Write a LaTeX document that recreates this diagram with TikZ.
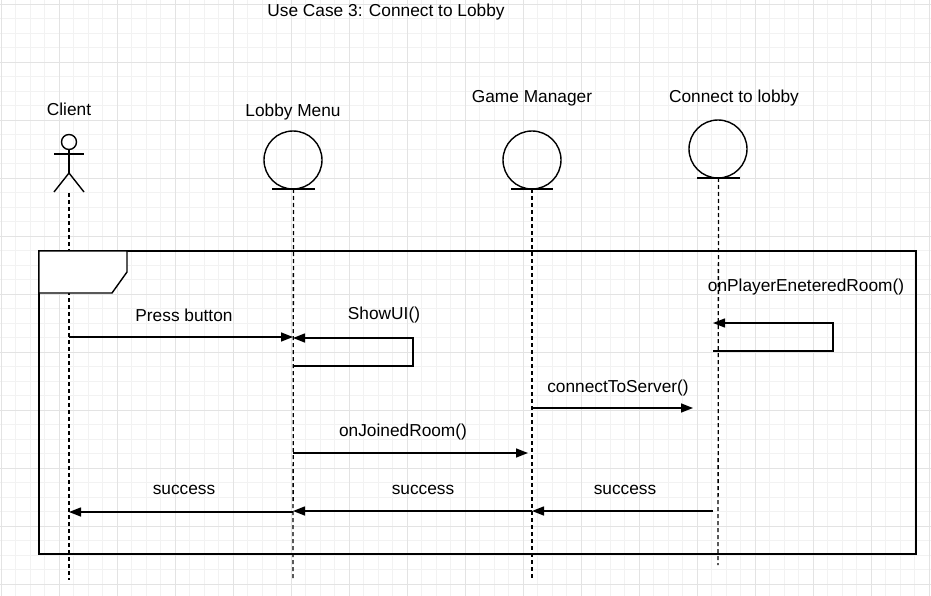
\documentclass[tikz,border=0pt]{standalone}
\usepackage{fontspec}
\setmainfont{Liberation Sans}
\usetikzlibrary{arrows.meta}
\tikzstyle{entity} = [draw, circle, line width=1.4pt, minimum size=58pt, inner sep=0pt]
\tikzstyle{lbl} = [font=\fontsize{17.3}{20}\selectfont, inner sep=0pt]
\tikzstyle{lifeline} = [line width=1.3pt, dash pattern=on 4pt off 3pt]
\tikzstyle{msg} = [line width=1.4pt, -{Triangle[length=12pt,width=9pt]}]
\tikzstyle{minorgrid} = [line width=0.8pt, black!5]
\tikzstyle{majorgrid} = [line width=0.8pt, black!11]

\begin{document}
\begin{tikzpicture}[x=1pt, y=-1pt]
\useasboundingbox (0,0) rectangle (931,596);

% background grid
\foreach \i in {0,...,64} \draw[minorgrid] ({1+14.5*\i},0) -- ({1+14.5*\i},596);
\foreach \j in {-1,...,41} \draw[minorgrid] (0,{4+14.5*\j}) -- (931,{4+14.5*\j});
\foreach \i in {0,...,16} \draw[majorgrid] ({1+58*\i},0) -- ({1+58*\i},596);
\foreach \j in {0,...,10} \draw[majorgrid] (0,{4+58*\j}) -- (931,{4+58*\j});

\node [lbl] (title) at (386,12) {Use Case 3: Connect to Lobby};

% participants
\node [lbl] (client) at (69,109) {Client};
\node [draw, circle, line width=1.4pt, minimum size=15pt, inner sep=0pt] (head) at (69,142) {};
\draw [line width=1.4pt] (54,154) -- (84,154);
\draw [line width=1.4pt] (head.south) -- (69,173) coordinate (hip);
\draw [line width=1.4pt] (54,192) -- (hip) -- (84,192);
\coordinate (clientbar) at (69,193);

\node [lbl] (lobbymenu) at (293,112) {Lobby Menu};
\node [entity] (menu) at (293,160) {};
\draw [line width=1.4pt] (272,189) -- (315,189) coordinate[pos=0.5] (menubar);

\node [lbl] (gamemanager) at (532,98) {Game Manager};
\node [entity] (manager) at (532,160) {};
\draw [line width=1.4pt] (511,189) -- (553,189) coordinate[pos=0.5] (managerbar);

\node [lbl] (connectlobby) at (734,98) {Connect to lobby};
\node [entity] (connect) at (718,149) {};
\draw [line width=1.4pt] (697,178) -- (740,178) coordinate[pos=0.5] (connectbar);

% lifelines
\draw [lifeline] (clientbar) -- (69,580) coordinate (clientend);
\draw [lifeline] (menubar) -- (293,578) coordinate (menuend);
\draw [lifeline] (managerbar) -- (532,578) coordinate (managerend);
\draw [lifeline] (connectbar) -- (718,565) coordinate (connectend);

% frame
\draw [line width=1.4pt] (39,251) rectangle (916,554);
\draw [line width=1.4pt, fill=white] (39,251) -- (127,251) -- (127,272) -- (112,293) -- (39,293) -- cycle;

% messages
\draw [msg] (clientend |- 0,337) -- (menuend |- 0,337);
\node [lbl] at (184,315) {Press button};
\draw [msg] (menuend |- 0,366) -- (413,366) -- (413,338) -- (menuend |- 0,338);
\node [lbl] at (384,315) {ShowUI()};
\draw [msg] ([xshift=-5pt]connectend |- 0,351) -- (833,351) -- (833,323) -- ([xshift=-5pt]connectend |- 0,323);
\node [lbl] at (806,287) {onPlayerEneteredRoom()};
\draw [msg] (managerend |- 0,408) -- ([xshift=-25pt]connectend |- 0,408);
\node [lbl] at (618,388) {connectToServer()};
\draw [msg] (menuend |- 0,453) -- ([xshift=-4pt]managerend |- 0,453);
\node [lbl] at (403,432) {onJoinedRoom()};
\draw [msg] ([xshift=-5pt]connectend |- 0,511) -- (managerend |- 0,511);
\node [lbl] at (625,490) {success};
\draw [msg] (managerend |- 0,511) -- (menuend |- 0,511);
\node [lbl] at (423,490) {success};
\draw [msg] (menuend |- 0,512) -- (clientend |- 0,512);
\node [lbl] at (184,490) {success};

\end{tikzpicture}
\end{document}
